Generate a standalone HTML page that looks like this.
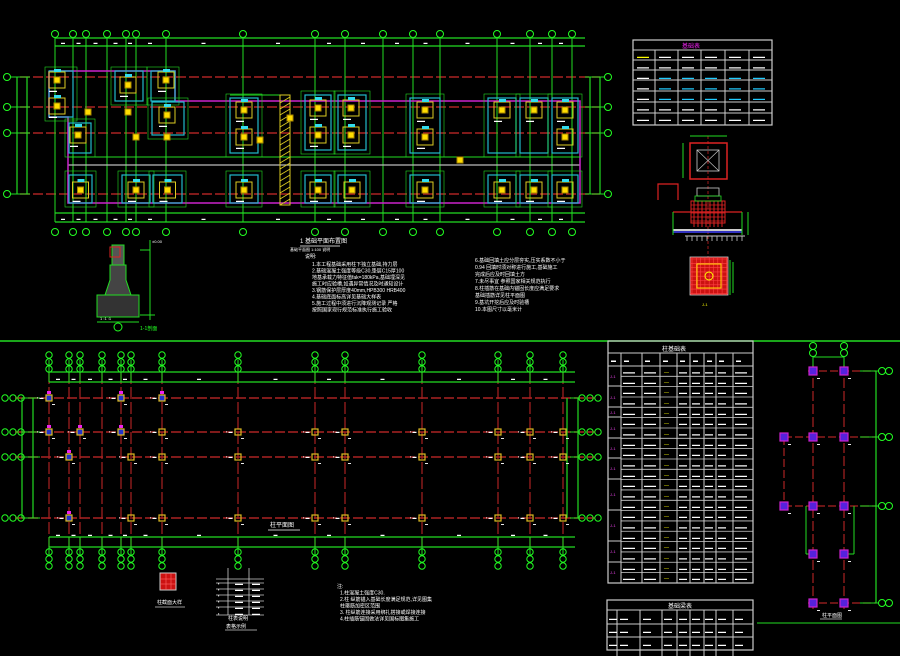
<!DOCTYPE html><html><head><meta charset="utf-8"><style>
html,body{margin:0;padding:0;background:#000;width:900px;height:656px;overflow:hidden}
svg{display:block}
text{font-family:"Liberation Sans","Noto Sans CJK SC",sans-serif;fill:#fff}
</style></head><body>
<svg id="s" width="900" height="656" viewBox="0 0 900 656" xmlns="http://www.w3.org/2000/svg">
<rect width="900" height="656" fill="#000"/>
</svg>
<script>
const S=document.getElementById('s');const NS='http://www.w3.org/2000/svg';
function el(t,a,txt){const e=document.createElementNS(NS,t);for(const k in a)e.setAttribute(k,a[k]);if(txt)e.textContent=txt;S.appendChild(e);return e;}
function L(x1,y1,x2,y2,c,w,d){const a={x1,y1,x2,y2,stroke:c,'stroke-width':w||1};if(d)a['stroke-dasharray']=d;el('line',a);}
function R(x,y,w,h,c,f,sw){el('rect',{x,y,width:w,height:h,stroke:c||'none',fill:f||'none','stroke-width':sw||1});}
function B(x,y,r){el('circle',{cx:x,cy:y,r:r||3.5,stroke:'#2f2',fill:'none','stroke-width':1});}
function T(x,y,s,sz,c){el('text',{x,y,'font-size':sz||5,style:'fill:'+(c||'#fff')},s);}
const G='#22dd22',RD='#aa2222',C='#22bbcc',Y='#ddcc22',M='#cc22cc';
// ===== TOP PLAN =====
const tx=[55,73,86,107,126,136,166,243,315,345,383,413,440,497,530,552,572];
const ty=[77,107,133,194];
ty.forEach(y=>{L(20,y,600,y,RD,1.5,'10,3');});
tx.forEach(x=>{L(x,38,x,222,G,1);B(x,34,3.5);B(x,232,3.5);});
L(55,38,585,38,G,1.2);L(55,46,585,46,G,1.2);L(55,213,585,213,G,1.2);L(55,222,585,222,G,1.2);
L(17,77,17,194,G,1.2);L(27,77,27,194,G,1.2);L(590,77,590,194,G,1.2);L(600,77,600,194,G,1.2);
ty.forEach(y=>{B(7,y);B(608,y);L(11,y,30,y,G,1);L(585,y,604,y,G,1);});
for(let i=0;i<tx.length-1;i++){T((tx[i]+tx[i+1])/2-3,44,'▬',4);T((tx[i]+tx[i+1])/2-3,220,'▬',4);}
// internal green lines
L(68,157,580,157,G,1);L(68,165,580,165,'#bbb',1.2);L(230,95,290,95,G,1);
// magenta outline
el('polyline',{points:'49,71 175,71 175,101 580,101 580,203 68,203 68,117 49,117 49,71',fill:'none',stroke:M,'stroke-width':1.5});
// hatched column
R(280,95,10,110,Y,'none',1);for(let y=97;y<205;y+=6)L(280,y+6,290,y,Y,0.8);
// foundation boxes
function F(x,y,w,h,inn){R(x,y,w,h,C,'none',1.2);R(x-4,y-4,w+8,h+8,G,'none',0.6);inn.forEach(p=>{R(p[0]-8,p[1]-8,16,16,Y,'none',1);R(p[0]-3,p[1]-3,6,6,'#aa8800','#ffdd00',1);R(p[0]-3,p[1]-11,7,3,'none','#33ddee');T(p[0]-8,p[1]+12,'▬▬',4);});}
F(49,71,24,46,[[57,80],[57,106]]);F(69,123,22,30,[[78,135]]);F(115,71,28,30,[[128,85]]);F(151,71,24,30,[[166,80]]);F(152,102,32,33,[[167,115]]);
F(230,98,28,55,[[244,110],[244,137]]);F(305,95,26,55,[[318,108],[318,135]]);F(338,95,28,55,[[351,108],[351,135]]);F(410,98,30,55,[[425,110],[425,137]]);
F(488,98,28,55,[[502,110]]);F(520,98,28,55,[[534,110]]);F(552,98,26,55,[[565,110],[565,137]]);
[[69,92],[122,150],[153,182],[230,258],[305,331],[338,366],[410,440],[488,516],[520,548],[552,578]].forEach(p=>F(p[0],175,p[1]-p[0],28,[[(p[0]+p[1])/2,190]]));
[[88,112],[128,112],[136,137],[167,137],[290,118],[260,140],[460,160]].forEach(p=>{R(p[0]-3,p[1]-3,6,6,'#aa8800','#ffdd00');});
// top plan title
T(300,243,'1 基础平面布置图',6);L(300,246,340,246,'#fff',0.8);T(290,251,'基础平面图 1:100 说明',4);
// notes
T(305,258,'说明:',5);
['1.本工程基础采用柱下独立基础,持力层','2.基础混凝土强度等级C30,垫层C15厚100','  地基承载力特征值fak=180kPa,基础埋深见','  施工时应验槽,如遇异常情况及时通知设计','3.钢筋保护层厚度40mm,HPB300 HRB400','4.基础底面标高详见基础大样表','5.施工过程中须进行沉降观测记录 严格','  按照国家现行规范标准执行施工验收'].forEach((s,i)=>T(312,266+i*6.5,s,5));
['6.基础回填土应分层夯实,压实系数不小于','  0.94 回填时须对称进行施工,基础施工','  完成后应及时回填土方','7.未尽事宜 参照国家相关规范执行','8.柱插筋在基础内锚固长度应满足要求','  基础插筋详见柱平面图','9.基坑开挖后应及时验槽','10.本图尺寸以毫米计'].forEach((s,i)=>T(475,262+i*7,s,5));
// section detail left
R(97,295,42,22,G,'#333',1);el('polygon',{points:'105,295 131,295 126,280 126,265 110,265 110,280',fill:'#444',stroke:G});R(112,245,12,20,G,'#555',1);R(110,247,10,10,'#dd2222','none',1);
L(150,240,150,320,G,1);L(140,250,150,250,G,1);L(140,315,155,315,G,1);L(97,322,139,322,G,1);B(118,327,4);T(100,320,'1 :1 :1',4);T(140,330,'1-1剖面',5,'#2f2');T(152,243,'±0.00',4);
// ===== TOP RIGHT TABLE =====
R(633,40,139,85,'#ccc','none',1.2);
[50,60,70,80,91,102,113].forEach(y=>L(633,y,772,y,'#ccc',1));
[655,678,701,725,749].forEach(x=>L(x,50,x,125,'#ccc',1));
T(682,48,'基础表',6,'#e2e');
for(let r=0;r<7;r++){for(let c=0;c<6;c++){const xs=[633,655,678,701,725,749];const col=r==0&&c==0?'#ff0':(r>=2&&r<=4&&c>0?'#2cf':'#fff');T(xs[c]+4,58+r*10.5,'▬▬▬',4,col);}}
// plan detail
R(690,143,37,36,'#dd2222','none',1.5);R(697,150,22,21,'#ccc','none',0.8);L(697,150,719,171,'#ccc',0.6);L(719,150,697,171,'#ccc',0.6);L(708,136,708,290,'#dd2222',0.7,'3,2');L(690,136,727,136,G,1);L(683,143,683,178,G,1);
// section detail
el('polyline',{points:'658,200 658,184 678,184 678,200',fill:'none',stroke:'#dd2222','stroke-width':1.2});
R(691,201,34,22,'#dd2222','none',1);for(let x=694;x<725;x+=4)L(x,201,x,227,'#dd2222',1);for(let y=205;y<223;y+=4)L(691,y,725,y,'#dd2222',0.8);
L(673,212,742,212,'#dd2222',1.2);L(673,230,742,230,'#ccc',2);L(673,232,742,232,'#44f',1.5);L(685,236,745,236,'#ccc',1);
for(let x=687;x<745;x+=5)L(x,236,x,241,'#ccc',0.8);L(673,212,673,235,G,1);L(742,212,742,235,G,1);L(748,212,748,235,G,1);R(697,188,22,8,'#ccc','none',0.8);R(695,196,26,5,G,'none',0.8);
// rebar plan
R(690,257,38,38,'#ccc','#cc1111',0.8);for(let i=0;i<9;i++){L(690,259+i*4.3,728,259+i*4.3,'#ff4444',0.6);L(692+i*4.3,257,692+i*4.3,295,'#ff4444',0.6);}
R(697,264,24,24,'#ffdd00','none',1);el('circle',{cx:709,cy:276,r:4,stroke:'#ff0',fill:'none'});L(730,260,730,295,G,1);L(733,262,733,293,G,1);T(702,306,'J-1',4,'#ff0');
// ===== SEPARATOR =====
L(0,341,900,341,G,1.5);L(757,623,900,623,G,1);
// ===== BOTTOM PLAN =====
const bx=[49,69,80,102,121,131,162,238,315,345,422,498,530,563];
const by=[398,432,457,518];
by.forEach(y=>{L(15,y,595,y,RD,1.5,'10,3');[5,13,21].forEach(x=>B(x,y,3.2));[582,590,598].forEach(x=>B(x,y,3.2));L(22,y,40,y,G,1);L(570,y,580,y,G,1);});
bx.forEach(x=>{L(x,372,x,547,RD,1.2,'12,3');L(x,360,x,382,G,1);L(x,537,x,555,G,1);[355,362,369].forEach(y=>B(x,y,3.2));[552,559,566].forEach(y=>B(x,y,3.2));});
L(49,372,575,372,G,1.2);L(49,382,575,382,G,1.2);L(49,537,575,537,G,1.2);L(49,547,575,547,G,1.2);
L(22,398,22,518,G,1.2);L(33,398,33,518,G,1.2);L(567,398,567,518,G,1.2);L(578,398,578,518,G,1.2);
for(let i=0;i<bx.length-1;i++){T((bx[i]+bx[i+1])/2-3,380,'▬',4);T((bx[i]+bx[i+1])/2-3,536,'▬',4);}
const nodes=[[49,398,1],[121,398,1],[162,398,1],[49,432,1],[80,432,1],[121,432,1],[162,432,0],[238,432,0],[315,432,0],[345,432,0],[422,432,0],[498,432,0],[530,432,0],[563,432,0],
[69,457,1],[131,457,0],[162,457,0],[238,457,0],[315,457,0],[345,457,0],[422,457,0],[498,457,0],[530,457,0],[563,457,0],
[69,518,1],[131,518,0],[162,518,0],[238,518,0],[315,518,0],[345,518,0],[422,518,0],[498,518,0],[530,518,0],[563,518,0]];
nodes.forEach(n=>{R(n[0]-3,n[1]-3,6,6,'#ddbb22',n[2]?'#2233cc':'none',1.2);T(n[0]-12,n[1]+1,'▪ ▬',4);T(n[0]+3,n[1]+7,'▬',3);if(n[2])R(n[0]-2,n[1]-7,4,3,'none','#e2e');});
T(270,527,'柱平面图',6);L(268,530,300,530,'#fff',0.8);
// bottom-left small things
R(160,573,16,17,'#ccc','#cc1111',1);L(160,579,176,579,'#f66',0.6);L(160,584,176,584,'#f66',0.6);L(166,573,166,590,'#f66',0.6);L(171,573,171,590,'#f66',0.6);T(157,604,'柱截面大样',5);L(155,607,185,607,'#ccc',0.8);
R(216,576,48,45,'none','none');[576,580,586,592,598,604,612].forEach(y=>L(216,y+3,264,y+3,'#ccc',0.8));L(228,568,228,615,'#ccc',0.8);L(249,568,249,615,'#ccc',0.8);
for(let r=0;r<6;r++){T(218,585+r*6,'▪',4);T(235,585+r*6,'▬▬',4);T(252,585+r*6,'▬▬',4);}T(228,620,'柱表说明',5);T(226,628,'表格示例',5);L(225,630,257,630,'#ccc',0.8);
['注:','1.柱混凝土强度C30.','2.柱 纵筋锚入基础长度满足规范,详见图集','  柱箍筋加密区范围','3.  柱纵筋连接采用绑扎搭接或焊接连接','4.柱插筋锚固做法详见国标图集施工'].forEach((s,i)=>T(337+(i==0?0:3),588+i*6.5,s,5));
// ===== BOTTOM RIGHT TABLE =====
R(608,341,145,242,'#ccc','none',1.2);L(608,353,753,353,'#ccc',1);L(608,366,753,366,'#ccc',1);
const cx=[621,642,660,677,690,704,716,733];
cx.forEach(x=>L(x,353,x,583,'#ccc',1));T(662,351,'柱基础表',6);
for(let r=0;r<21;r++){const y=366+r*10.33;L(621,y,753,y,'#ccc',0.8);const xs=[621,642,660,677,690,704,716,733];
T(623,y+7.5,'▬▬▬',4);T(644,y+7.5,'▬▬▬',4);T(664,y+7.5,'—',5,'#ff0');T(679,y+7.5,'▬▬',4);T(692,y+7.5,'▬▬',4);T(705,y+7.5,'▬▬',4);T(718,y+7.5,'▬▬',4);T(735,y+7.5,'▬▬▬',4);}
[366,386,407,417,438,458,479,510,541,562,583].forEach((y,i)=>{L(608,y,621,y,'#ccc',1);});
[376,397,412,428,448,468,494,525,551,572].forEach(y=>T(610,y+2,'J-1',4,'#e4e'));
for(let c=0;c<10;c++){const xs=[608,621,642,660,677,690,704,716,733];if(xs[c])T(xs[c]+3,362,'▬',5);}
// second table
R(607,600,146,50,'#ccc','none',1.2);L(607,610,753,610,'#ccc',1);L(607,624,753,624,'#ccc',1);L(607,637,753,637,'#ccc',1);L(607,650,753,650,'#ccc',1);
[617,640,662,677,690,704,716,733].forEach(x=>L(x,610,x,656,'#ccc',1));T(668,608,'基础梁表',6);
for(let r=0;r<4;r++){[609,620,643,664,679,692,705,718,735].forEach(x=>T(x,620+r*13,'▬▬',4));}
// ===== RIGHT ELEVATION =====
const ex=[813,844],ey=[371,437,506,554,603];
[371,437,506,603].forEach(y=>L(y==437||y==506?784:808,y,876,y,RD,1.2,'8,3'));
ex.forEach(x=>{L(x,365,x,610,RD,1.2,'10,3');B(x,346,3.5);B(x,353,3.5);L(x,357,x,371,G,1);});
L(813,357,844,357,G,1);L(784,437,784,506,RD,1.2,'8,3');
L(876,371,876,603,G,1.2);[371,437,506,603].forEach(y=>{B(882,y,3.5);B(889,y,3.5);L(860,y,878,y,G,1);});
L(806,506,806,554,G,1);L(854,506,854,554,G,1);L(806,554,812,554,G,1);L(848,554,854,554,G,1);
[[813,371],[844,371],[784,437],[813,437],[844,437],[784,506],[813,506],[844,506],[813,554],[844,554],[813,603],[844,603]].forEach(p=>{R(p[0]-4,p[1]-4,8,8,'#cc22cc','#5522dd',1.2);T(p[0]+4,p[1]+8,'▬',3);});
T(822,617,'柱平面图',5);L(820,619,842,619,'#ccc',0.8);
</script>
</body></html>
